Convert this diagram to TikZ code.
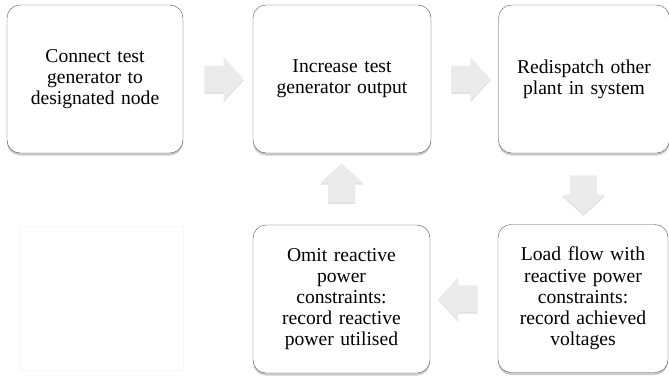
\documentclass[tikz,border=0pt]{standalone}
\usepackage{fontspec}
\setmainfont{Liberation Serif}
\usetikzlibrary{shapes.arrows,shadows,calc}
\tikzset{
  stepbox/.style={draw=gray!65!black, fill=white, rounded corners=13pt,
    minimum width=176pt, minimum height=148pt, text width=166pt, align=center,
    inner sep=0pt, font=\fontsize{19.6}{21.2}\selectfont,
    drop shadow={shadow xshift=0pt, shadow yshift=-2.5pt, fill=gray!80, opacity=.5}},
  flowarrow/.style={single arrow, draw=none, fill=gray!16, inner sep=13pt,
    minimum height=39pt, minimum width=43pt, single arrow head extend=8pt,
    single arrow tip angle=95, shape border rotate=#1,
    drop shadow={shadow xshift=0pt, shadow yshift=-1.5pt, fill=gray!70, opacity=.35}},
  flowarrow/.default=0
}

\begin{document}
\begin{tikzpicture}[x=1pt,y=-1pt]
\useasboundingbox (0,0) rectangle (669,381);
%faint empty frame bottom left
\draw[gray!6, fill=white] (20,226) rectangle (183,370);

%top row
\node[stepbox] (connect) at (95,79) {Connect test\\generator to\\designated node};
\node[stepbox, minimum width=178pt] (increase) at (342,79) {Increase test\\generator output};
\node[stepbox, minimum width=171pt] (redispatch) at (584,79) {Redispatch other\\plant in system};

%bottom row
\node[stepbox, minimum width=170pt] (loadflow) at (583,298.5) {Load flow with\\reactive power\\constraints:\\record achieved\\voltages};
\node[stepbox, minimum width=177pt] (omit) at (341.5,299) {Omit reactive\\power\\constraints:\\record reactive\\power utilised};

%arrows between the boxes
\node[flowarrow=0] (a1) at ($(connect.east)!0.5!(increase.west)$) {};
\node[flowarrow=0] (a2) at ($(increase.east)!0.5!(redispatch.west)$) {};
\node[flowarrow=270] (a3) at ($(redispatch.south)!0.5!(loadflow.north)$) {};
\node[flowarrow=180] (a4) at ($(loadflow.west)!0.5!(omit.east)$) {};
\node[flowarrow=90] (a5) at ($(omit.north)!0.5!(increase.south)$) {};
\end{tikzpicture}
\end{document}
